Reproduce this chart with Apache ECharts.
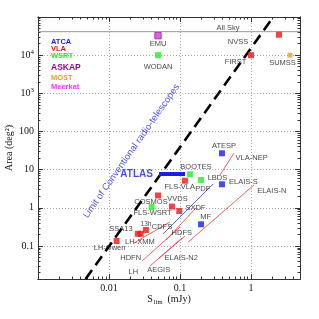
<!DOCTYPE html>
<html><head><meta charset="utf-8">
<script src="https://cdn.jsdelivr.net/npm/echarts@6/dist/echarts.min.js"></script>
<style>html,body{margin:0;padding:0;background:#fff}#c{width:319px;height:319px}</style>
</head><body><div id="c"></div>
<script>
// ---------- data ----------
const xRange = [0.001, 4.9];
const yRange = [0.0137, 1e5];
const xMajorTicks = [0.001, 0.01, 0.1, 1];
const xTickLabels = [0.01, 0.1, 1];
const xMinorTicks = [0.002,0.003,0.004,0.005,0.006,0.007,0.008,0.009,
  0.02,0.03,0.04,0.05,0.06,0.07,0.08,0.09,
  0.2,0.3,0.4,0.5,0.6,0.7,0.8,0.9, 2,3,4];
const yMajorTicks = [0.1, 1, 10, 100, 1000, 10000, 100000];
const yTickLabels = [0.1, 1, 10, 100, 1000, 10000];
const yMinorTicks = [0.02,0.03,0.04,0.05,0.06,0.07,0.08,0.09,
  0.2,0.3,0.4,0.5,0.6,0.7,0.8,0.9, 2,3,4,5,6,7,8,9,
  20,30,40,50,60,70,80,90, 200,300,400,500,600,700,800,900,
  2000,3000,4000,5000,6000,7000,8000,9000,
  20000,30000,40000,50000,60000,70000,80000,90000];

const telescopes = ['ATCA', 'VLA', 'WSRT', 'ASKAP', 'MOST', 'Meerkat'];
const atcaPoints = [[0.39, 26.9], [0.39, 4.14], [0.198, 0.371]];          // ATESP, ELAIS-S, MF
const vlaPoints = [[2.48, 34300], [1.0, 10000], [0.1175, 5.14], [0.049, 2.11],
  [0.077, 1.08], [0.0977, 0.826], [0.0331, 0.263], [0.0254, 0.209], [0.028, 0.209], [0.0128, 0.1355]];
const wsrtPoints = [[0.049, 10000], [0.138, 7.57], [0.198, 5.37], [0.0399, 1.05]]; // WODAN, BOOTES, PDF, FLS-WSRT
const askapPoints = [[0.049, 32400]];   // EMU
const mostPoints = [[3.54, 10000]];     // SUMSS
const meerkatPoints = [];

const allSkyArea = 41253;
const limitLine = [[0.00468, 0.0137], [2.06, 100000]];
const atlasLine = [[0.0506, 7.7], [0.1175, 7.7]];
const redSegments = [
  [[0.366, 7.26], [0.577, 27.4]],     // VLA-NEP
  [[0.130, 0.127], [1.10, 3.97]],     // ELAIS-N
  [[0.0225, 0.12], [0.0722, 0.426]],
  [[0.0292, 0.0405], [0.1, 0.315]],
  [[0.0378, 0.030], [0.1067, 0.162]],
  [[0.049, 0.0457], [0.1175, 0.183]],
  [[0.0635, 0.144], [0.168, 0.99]]
];
const blueSegments = [
  [[0.0577, 0.2065], [0.292, 4.22]]
];

const pointLabels = [
  [0.474, 51500, 'All Sky'], [0.049, 19600, 'EMU'], [0.049, 4900, 'WODAN'],
  [0.656, 22100, 'NVSS'], [0.605, 6620, 'FIRST'], [2.78, 6430, 'SUMSS'],
  [0.417, 42.5, 'ATESP'], [1.02, 19.9, 'VLA-NEP'], [0.168, 11.5, 'BOOTES'],
  [0.337, 6.17, 'LBDS'], [0.783, 4.84, 'ELAIS-S'], [1.96, 2.81, 'ELAIS-N'],
  [0.099, 3.45, 'FLS-VLA'], [0.209, 3.06, 'PDF'], [0.039, 1.45, 'COSMOS'],
  [0.0923, 1.71, 'VVDS'], [0.041, 0.746, 'FLS-WSRT'], [0.165, 1.02, 'SXDF'],
  [0.230, 0.586, 'MF'], [0.106, 0.223, 'HDFS'], [0.0557, 0.321, 'CDFS'],
  [0.01476, 0.274, 'SSA13'], [0.0272, 0.130, 'LH-XMM'], [0.0102, 0.0871, 'LH-Owen'],
  [0.0202, 0.0494, 'HDFN'], [0.022, 0.0205, 'LH'], [0.0502, 0.0235, 'AEGIS'],
  [0.104, 0.0477, 'ELAIS-N2']
];
const smallLabels = [[0.0332, 0.366, '13h']];
const atlasLabel = [[0.0245, 7.7, 'ATLAS']];
const limitLabel = [[0.0207, 30.7, 'Limit of Conventional radio-telescopes']];

// ---------- styles ----------
const colors = {ATCA:'#1c1ce8', VLA:'#f01414', WSRT:'#22ee22', ASKAP:'#990099', MOST:'#e0a030', Meerkat:'#ff33ff'};
const serif = 'Liberation Serif';
const sans = 'Liberation Sans';
const axisCol = '#333';

function logAxis(pos, range, ticks, len, extra) {
  return Object.assign({
    type: 'log', logBase: 10, min: range[0], max: range[1], position: pos,
    axisLine: {show: true, lineStyle: {color: axisCol, width: 1}},
    axisTick: {show: true, inside: true, length: len, customValues: ticks, lineStyle: {color: axisCol, width: 1}},
    axisLabel: {show: false},
    splitLine: {show: false}
  }, extra || {});
}
const supMap = {1000: '10{sup|3}', 10000: '10{sup|4}'};

const option = {
  animation: false,
  backgroundColor: '#fff',
  grid: {left: 38, right: 19, top: 17, bottom: 40, containLabel: false, outerBoundsMode: 'none'},
  xAxis: [
    logAxis('bottom', xRange, xMajorTicks, 5, {
      axisLabel: {show: true, customValues: xTickLabels, margin: 4, fontFamily: serif, fontSize: 10, color: '#111',
        formatter: v => String(+Number(v).toPrecision(3))},
      splitLine: {show: true, lineStyle: {color: '#aaa', width: 1, type: [1, 2]}},
      name: '{s|S}{sub|lim}{s|  (mJy)}', nameLocation: 'middle', nameGap: 14, nameMoveOverlap: false,
      nameTextStyle: {fontFamily: serif, fontSize: 10, color: '#111',
        rich: {s: {fontFamily: serif, fontSize: 10, color: '#111'}, sub: {fontFamily: serif, fontSize: 6.5, color: '#111', padding: [6, 0, 0, 1]}}}
    }),
    logAxis('bottom', xRange, xMinorTicks, 2.5),
    logAxis('top', xRange, xMajorTicks, 5),
    logAxis('top', xRange, xMinorTicks, 2.5)
  ],
  yAxis: [
    logAxis('left', yRange, yMajorTicks, 5, {
      axisLabel: {show: true, customValues: yTickLabels, margin: 4, fontFamily: serif, fontSize: 10, color: '#111',
        formatter: v => supMap[Math.round(v)] || String(+Number(v).toPrecision(3)),
        rich: {sup: {fontFamily: serif, fontSize: 7, color: '#111', padding: [0, 0, 6, 0]}}},
      splitLine: {show: true, lineStyle: {color: '#aaa', width: 1, type: [1, 2]}},
      name: 'Area (deg²)', nameLocation: 'middle', nameGap: 24, nameMoveOverlap: false,
      nameTextStyle: {fontFamily: serif, fontSize: 10, color: '#111'}
    }),
    logAxis('left', yRange, yMinorTicks, 2.5),
    logAxis('right', yRange, yMajorTicks, 5),
    logAxis('right', yRange, yMinorTicks, 2.5)
  ],
  graphic: telescopes.map((t, i) => ({
    type: 'text', left: 51, top: [37.5, 44.5, 52, 63, 73.5, 83][i],
    style: {text: t, fill: colors[t], font: (t === 'ASKAP' ? 'bold 8.5px ' : 'bold 7.5px ') + sans}
  })),
  series: [
    {type: 'line', data: [[xRange[0], allSkyArea], [xRange[1], allSkyArea]], symbol: 'none',
      lineStyle: {color: '#999', width: 1}, z: 1, silent: true},
    {type: 'line', data: limitLine, symbol: 'none', lineStyle: {color: '#000', width: 2.6, type: [11, 6]}, z: 3},
    {type: 'lines', coordinateSystem: 'cartesian2d', data: redSegments.map(s => ({coords: s})),
      lineStyle: {color: '#e83838', width: 0.8, opacity: 1}, z: 2},
    {type: 'lines', coordinateSystem: 'cartesian2d', data: blueSegments.map(s => ({coords: s})),
      lineStyle: {color: '#3333cc', width: 0.8, opacity: 1}, z: 2},
    {type: 'line', data: atlasLine, symbol: 'none', lineStyle: {color: colors.ATCA, width: 4}, z: 4},
    {name: 'ATCA', type: 'scatter', symbol: 'rect', symbolSize: 6, data: atcaPoints, itemStyle: {color: colors.ATCA}, z: 5},
    {name: 'VLA', type: 'scatter', symbol: 'rect', symbolSize: 6, data: vlaPoints, itemStyle: {color: colors.VLA}, z: 5},
    {name: 'WSRT', type: 'scatter', symbol: 'rect', symbolSize: 6, data: wsrtPoints, itemStyle: {color: colors.WSRT}, z: 5},
    {name: 'ASKAP', type: 'scatter', symbol: 'rect', symbolSize: 6.5, data: askapPoints,
      itemStyle: {color: '#dd33dd', borderColor: '#881188', borderWidth: 0.8}, z: 5},
    {name: 'MOST', type: 'scatter', symbol: 'rect', symbolSize: 5, data: mostPoints, itemStyle: {color: colors.MOST}, z: 5},
    {name: 'Meerkat', type: 'scatter', symbol: 'rect', symbolSize: 6, data: meerkatPoints, itemStyle: {color: colors.Meerkat}, z: 5},
    {type: 'scatter', data: pointLabels, symbolSize: 1, itemStyle: {color: 'rgba(0,0,0,0)'}, z: 6, silent: true,
      label: {show: true, position: 'inside', formatter: p => p.value[2], color: '#111', fontFamily: sans, fontSize: 7.5}},
    {type: 'scatter', data: smallLabels, symbolSize: 1, itemStyle: {color: 'rgba(0,0,0,0)'}, z: 6, silent: true,
      label: {show: true, position: 'inside', formatter: p => p.value[2], color: '#111', fontFamily: sans, fontSize: 6.5}},
    {type: 'scatter', data: atlasLabel, symbolSize: 1, itemStyle: {color: 'rgba(0,0,0,0)'}, z: 6, silent: true,
      label: {show: true, position: 'inside', formatter: p => p.value[2], color: colors.ATCA, fontFamily: sans, fontWeight: 'bold', fontSize: 10}},
    {type: 'scatter', data: limitLabel, symbolSize: 1, itemStyle: {color: 'rgba(0,0,0,0)'}, z: 6, silent: true,
      label: {show: true, position: 'inside', rotate: 55, formatter: p => p.value[2], color: '#2424d8', fontFamily: sans, fontSize: 9.5}}
  ]
};
const chart = echarts.init(document.getElementById('c'), null, {renderer: 'canvas'});
chart.setOption(option);
</script></body></html>
